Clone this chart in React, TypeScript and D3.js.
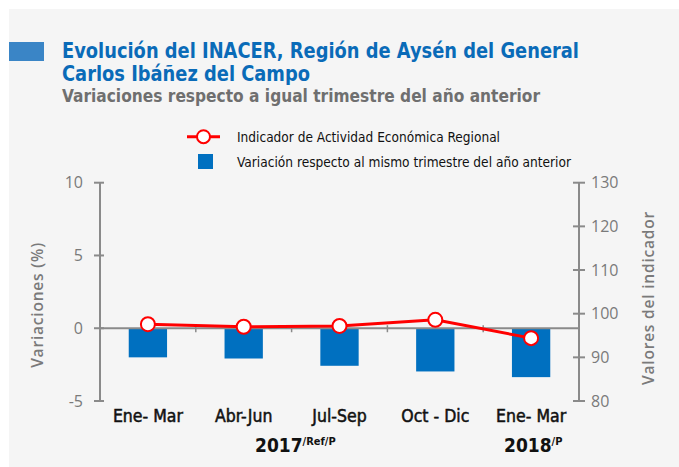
import * as d3 from "d3";
import React from "react";

const categories = ["Ene- Mar", "Abr-Jun", "Jul-Sep", "Oct - Dic", "Ene- Mar"];
const variationValues = [-2.0, -2.08, -2.58, -2.97, -3.36];
const indicatorValues = [97.6, 97.0, 97.2, 98.6, 94.4];
const leftTicks = [-5, 0, 5, 10];
const rightTicks = [80, 90, 100, 110, 120, 130];

const W = 679;
const H = 467;
const plot = { left: 100, right: 579, top: 182.7, bottom: 401 };

const condensed = "'DejaVu Sans Condensed', 'Liberation Sans Narrow', 'DejaVu Sans', sans-serif";
const plain = "'Open Sans', 'Noto Sans', sans-serif";

export default function App() {
  const x = d3
    .scaleBand<number>()
    .domain(categories.map((_, i) => i))
    .range([plot.left, plot.right])
    .paddingInner(0.6)
    .paddingOuter(0.3);
  const yLeft = d3.scaleLinear().domain([-5, 10]).range([plot.bottom, plot.top]);
  const yRight = d3.scaleLinear().domain([80, 130]).range([plot.bottom, plot.top]);
  const cx = (i: number) => (x(i) as number) + x.bandwidth() / 2;
  const y0 = yLeft(0);

  const line = d3
    .line<number>()
    .x((_, i) => cx(i))
    .y((d) => yRight(d));

  const step = x.step();
  const boundaries = categories.slice(1).map((_, i) => plot.left + step * (i + 1));

  return (
    <svg width={W} height={H} style={{ position: "absolute", left: 0, top: 0 }}>
      <rect x={0} y={0} width={W} height={H} fill="#ffffff" />
      <rect x={9} y={9} width={W - 9} height={H - 9} fill="#f5f5f5" />

      {/* title */}
      <rect x={9} y={42} width={35} height={19} fill="#3a85c6" />
      <g fontFamily={condensed} fontWeight="bold">
        <text x={62} y={57.5} fontSize={21} fill="#0a6bb8" textLength={517} lengthAdjust="spacingAndGlyphs">
          Evolución del INACER, Región de Aysén del General
        </text>
        <text x={62} y={81} fontSize={21} fill="#0a6bb8" textLength={248} lengthAdjust="spacingAndGlyphs">
          Carlos Ibáñez del Campo
        </text>
        <text x={62} y={101.5} fontSize={18.5} fill="#6f6f6f" textLength={478} lengthAdjust="spacingAndGlyphs">
          Variaciones respecto a igual trimestre del año anterior
        </text>
      </g>

      {/* legend */}
      <g fontFamily={condensed} fontSize={14} fill="#111">
        <line x1={187} x2={220} y1={136.7} y2={136.7} stroke="#ff0000" strokeWidth={3} />
        <circle cx={203.5} cy={136.7} r={6.5} fill="#fff" stroke="#ff0000" strokeWidth={2} />
        <text x={237} y={141.5} textLength={263} lengthAdjust="spacingAndGlyphs">
          Indicador de Actividad Económica Regional
        </text>
        <rect x={198} y={154} width={15} height={15} fill="#0070c0" />
        <text x={237} y={166.5} textLength={334} lengthAdjust="spacingAndGlyphs">
          Variación respecto al mismo trimestre del año anterior
        </text>
      </g>

      {/* bars */}
      {variationValues.map((v, i) => (
        <rect
          key={i}
          x={x(i)}
          y={yLeft(Math.max(0, v))}
          width={x.bandwidth()}
          height={Math.abs(yLeft(v) - y0)}
          fill="#0070c0"
        />
      ))}

      {/* axes */}
      <g stroke="#8a8a8a" strokeWidth={2}>
        <line x1={plot.left} x2={plot.left} y1={plot.top} y2={plot.bottom} />
        <line x1={plot.right} x2={plot.right} y1={plot.top} y2={plot.bottom} />
        <line x1={plot.left} x2={plot.right} y1={y0} y2={y0} />
        {leftTicks.map((t) => (
          <line key={t} x1={plot.left - 6} x2={plot.left + 4} y1={yLeft(t)} y2={yLeft(t)} />
        ))}
        {rightTicks.map((t) => (
          <line key={t} x1={plot.right - 6} x2={plot.right + 6} y1={yRight(t)} y2={yRight(t)} />
        ))}
        {boundaries.map((b) => (
          <line key={b} x1={b} x2={b} y1={y0 - 3} y2={y0 + 4} strokeWidth={1.5} />
        ))}
      </g>

      <g fontFamily={plain} fontSize={16} fill="#7a7a7a">
        {leftTicks.map((t) => (
          <text key={t} x={83} y={yLeft(t)} dy="0.35em" textAnchor="end">
            {t}
          </text>
        ))}
        {rightTicks.map((t) => (
          <text key={t} x={591} y={yRight(t)} dy="0.35em">
            {t}
          </text>
        ))}
      </g>

      <g fontFamily={plain} fontSize={15.5} fontWeight="600" fill="#7a7a7a" letterSpacing={0.8}>
        <text transform={`translate(43,305) rotate(-90)`} textAnchor="middle">
          Variaciones (%)
        </text>
        <text transform={`translate(654,298) rotate(-90)`} textAnchor="middle">
          Valores del indicador
        </text>
      </g>

      {/* line series */}
      <path d={line(indicatorValues) ?? ""} fill="none" stroke="#ff0000" strokeWidth={3} />
      {indicatorValues.map((v, i) => (
        <circle key={i} cx={cx(i)} cy={yRight(v)} r={7} fill="#fff" stroke="#ff0000" strokeWidth={2} />
      ))}

      {/* category labels */}
      <g
        fontFamily={condensed}
        fontSize={17.5}
        fill="#111"
        stroke="#111"
        strokeWidth={0.5}
        textAnchor="middle"
      >
        {categories.map((c, i) => (
          <text key={i} x={cx(i)} y={422}>
            {c}
          </text>
        ))}
      </g>
      <g fontFamily={condensed} fontWeight="bold" fill="#111">
        <text x={255} y={452} fontSize={19}>
          2017
          <tspan fontSize={11} dy={-7}>/Ref/P</tspan>
        </text>
        <text x={504} y={452} fontSize={19}>
          2018
          <tspan fontSize={11} dy={-7}>/P</tspan>
        </text>
      </g>
    </svg>
  );
}
